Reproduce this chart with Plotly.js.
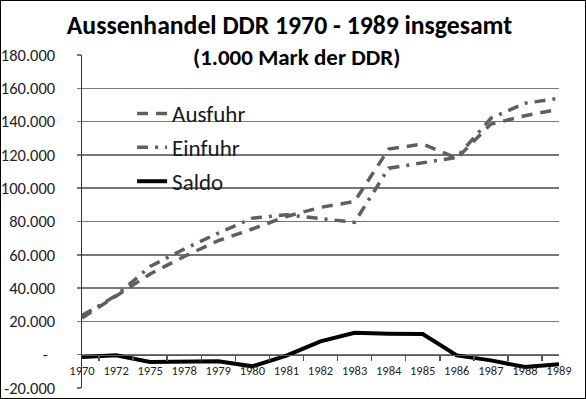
<!DOCTYPE html>
<html>
<head>
<meta charset="utf-8">
<script src="https://cdn.plot.ly/plotly-3.0.1.min.js"></script>
<style>
html,body{margin:0;padding:0;background:#fff;}
#frame{width:586px;height:399px;box-sizing:border-box;border:1px solid #000;overflow:hidden;}
#chart{width:584px;height:397px;}
</style>
</head>
<body>
<div id="frame"><div id="chart"></div></div>
<script>
var years = ['1970','1972','1975','1978','1979','1980','1981','1982','1983','1984','1985','1986','1987','1988','1989'];
var ausfuhr = [22000, 35000, 48500, 59000, 68500, 75500, 83000, 88500, 92000, 123500, 126500, 118000, 138500, 143500, 147500];
var einfuhr = [23500, 35500, 53000, 63500, 73000, 82000, 84000, 81500, 79500, 112000, 115500, 118500, 142000, 151000, 154000];
var saldo = [-1400, -300, -4400, -4400, -4000, -7000, -600, 8000, 13200, 12600, 12400, -400, -3400, -7400, -5800];
var yTickVals = [-20000, 0, 20000, 40000, 60000, 80000, 100000, 120000, 140000, 160000, 180000];
var yTickText = ['-20.000', '-\u00a0\u00a0', '20.000', '40.000', '60.000', '80.000', '100.000', '120.000', '140.000', '160.000', '180.000'];

var FONT = 'Carlito, Lato, "Open Sans", sans-serif';

var traces = [
  {x: years, y: ausfuhr, name: 'Ausfuhr', type: 'scatter', mode: 'lines', legendgroup: 'a',
   line: {color: '#5f5f5f', width: 3.5, dash: '11px,8px'}},
  {x: years, y: einfuhr, name: 'Einfuhr', type: 'scatter', mode: 'lines', legendgroup: 'b',
   line: {color: '#5f5f5f', width: 3.5, dash: '11px,7px,3px,7px'}},
  {x: years, y: saldo, name: 'Saldo', type: 'scatter', mode: 'lines', legendgroup: 'c',
   line: {color: '#000000', width: 4}}
];

var layout = {
  width: 584, height: 397,
  margin: {l: 81, r: 26, t: 54, b: 10, pad: 0},
  paper_bgcolor: '#ffffff', plot_bgcolor: '#ffffff',
  font: {family: FONT, color: '#1a1a1a'},
  title: {text: '<b>Aussenhandel DDR 1970 - 1989 insgesamt</b>', xref: 'container', x: 0.494, xanchor: 'center',
          yref: 'container', y: 1 - 24/397, yanchor: 'middle', font: {family: FONT, size: 25.7, color: '#000'}},
  annotations: [{text: '<b>(1.000 Mark der DDR)</b>', xref: 'paper', yref: 'paper', x: 0.45, y: 0.994,
                 xanchor: 'center', yanchor: 'middle', showarrow: false, font: {family: FONT, size: 23, color: '#000'}}],
  showlegend: true,
  legend: {x: 0.105, xanchor: 'left', y: 0.889, yanchor: 'top', bgcolor: 'rgba(0,0,0,0)', borderwidth: 0,
           tracegroupgap: 1, font: {family: FONT, size: 23, color: '#1a1a1a'}},
  xaxis: {type: 'category', categoryorder: 'array', categoryarray: years, anchor: 'free', position: 0.1,
          showline: true, linecolor: '#555', linewidth: 1.5, ticks: 'outside', tickson: 'boundaries',
          ticklen: 5, tickwidth: 1.5, tickcolor: '#555', showgrid: false, zeroline: false,
          ticklabelstandoff: 4, tickangle: 0,
          tickfont: {family: FONT, size: 12.5, color: '#222'}, fixedrange: true},
  yaxis: {range: [-20000, 180000], tickmode: 'array', tickvals: yTickVals, ticktext: yTickText,
          showline: true, linecolor: '#333', linewidth: 1.5, ticks: 'outside', ticklen: 4, tickwidth: 1.5,
          tickcolor: '#777', showgrid: true, gridcolor: '#777', gridwidth: 1.5, zeroline: false,
          ticklabelstandoff: 18, tickfont: {family: FONT, size: 16.5, color: '#222'}, fixedrange: true}
};

Plotly.newPlot('chart', traces, layout, {displayModeBar: false, staticPlot: true});
</script>
</body>
</html>
